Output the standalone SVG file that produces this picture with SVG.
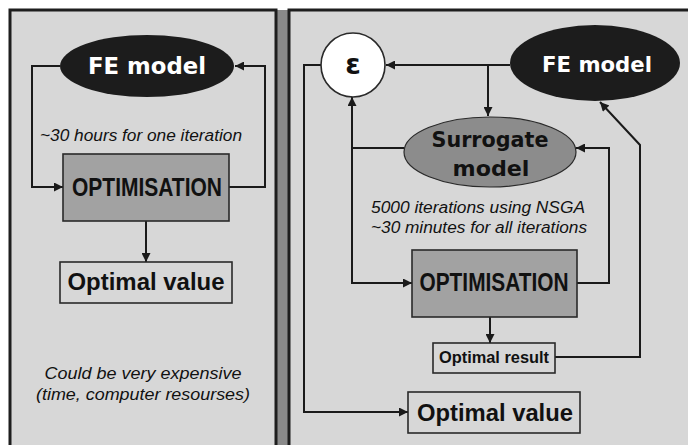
<svg xmlns="http://www.w3.org/2000/svg" width="688" height="445" viewBox="0 0 688 445">
<defs>
<marker id="arr" viewBox="0 0 10 10" refX="10" refY="5" markerUnits="userSpaceOnUse" markerWidth="11" markerHeight="9" orient="auto">
<path d="M0,0 L10,5 L0,10 z" fill="#1a1a1a"/>
</marker>
<style>
.panel{fill:#d7d7d7;stroke:#1e1e1e;stroke-width:3}
.conn path{fill:none;stroke:#1a1a1a;stroke-width:2}
.box{stroke:#2a2a2a;stroke-width:1.6}
.geo{font-family:"DejaVu Sans",sans-serif;font-weight:bold;text-anchor:middle}
.bold{font-family:"Liberation Sans",Arial,sans-serif;font-weight:bold;fill:#111;text-anchor:middle}
.ital{font-family:"Liberation Sans",Arial,sans-serif;font-style:italic;fill:#111;text-anchor:middle;font-size:16px}
</style>
</defs>
<rect x="0" y="0" width="688" height="445" fill="#ffffff"/>
<rect x="276" y="10" width="13" height="440" fill="#8a8a8a"/>
<rect class="panel" x="10" y="10" width="266" height="445"/>
<rect class="panel" x="289" y="10" width="410" height="445"/>

<g class="conn">
<path d="M60,66 H32 V187 H63" marker-end="url(#arr)"/>
<path d="M229,187 H265 V66 H235" marker-end="url(#arr)"/>
<path d="M146,221 V262" marker-end="url(#arr)"/>
<path d="M510,65 H386" marker-end="url(#arr)"/>
<path d="M488,65 V116" marker-end="url(#arr)"/>
<path d="M321,65 H304 V412 H408" marker-end="url(#arr)"/>
<path d="M404,148 H352 V97" marker-end="url(#arr)"/>
<path d="M352,148 V283 H412" marker-end="url(#arr)"/>
<path d="M577,283 H609 V148 H576" marker-end="url(#arr)"/>
<path d="M490,317 V343" marker-end="url(#arr)"/>
<path d="M555,357 H640 V145 L600,102" marker-end="url(#arr)"/>
</g>

<g id="fe-left">
<ellipse cx="147" cy="66" rx="87" ry="31" fill="#1c1c1c"/>
<text class="geo" x="147" y="74" font-size="23" fill="#ffffff" textLength="118" lengthAdjust="spacingAndGlyphs">FE model</text>
</g>
<g id="note-left">
<text class="ital" x="141" y="141" textLength="202" lengthAdjust="spacingAndGlyphs">~30 hours for one iteration</text>
</g>
<g id="opt-left">
<rect class="box" x="63" y="154" width="166" height="67" fill="#a2a2a2"/>
<text class="bold" x="147" y="196" font-size="25" textLength="150" lengthAdjust="spacingAndGlyphs">OPTIMISATION</text>
</g>
<g id="value-left">
<rect class="box" x="60" y="262" width="172" height="41" fill="#d7d7d7"/>
<text class="bold" x="146" y="290" font-size="24" textLength="157" lengthAdjust="spacingAndGlyphs">Optimal value</text>
</g>
<g id="cost-note">
<text class="ital" x="143" y="379" textLength="197" lengthAdjust="spacingAndGlyphs">Could be very expensive</text>
<text class="ital" x="143" y="400" textLength="214" lengthAdjust="spacingAndGlyphs">(time, computer resourses)</text>
</g>

<g id="epsilon">
<circle cx="353" cy="65" r="32" fill="#ffffff" stroke="#2a2a2a" stroke-width="1.6"/>
<text x="353" y="74" font-family="DejaVu Sans,sans-serif" font-weight="bold" font-size="28" fill="#111" text-anchor="middle">ε</text>
</g>
<g id="fe-right">
<ellipse cx="595" cy="63" rx="85" ry="38" fill="#1c1c1c"/>
<text class="geo" x="597" y="72" font-size="22" fill="#ffffff" textLength="110" lengthAdjust="spacingAndGlyphs">FE model</text>
</g>
<g id="surrogate">
<ellipse cx="490" cy="152" rx="86" ry="35" fill="#8c8c8c" stroke="#2a2a2a" stroke-width="1.2"/>
<text class="geo" x="490" y="147" font-size="21" fill="#111" textLength="117" lengthAdjust="spacingAndGlyphs">Surrogate</text>
<text class="geo" x="491" y="176" font-size="21" fill="#111" textLength="77" lengthAdjust="spacingAndGlyphs">model</text>
</g>
<g id="note-right">
<text class="ital" x="478" y="213" textLength="214" lengthAdjust="spacingAndGlyphs">5000 iterations using NSGA</text>
<text class="ital" x="479" y="233" textLength="216" lengthAdjust="spacingAndGlyphs">~30 minutes for all iterations</text>
</g>
<g id="opt-right">
<rect class="box" x="412" y="250" width="165" height="67" fill="#a2a2a2"/>
<text class="bold" x="494" y="291" font-size="25" textLength="149" lengthAdjust="spacingAndGlyphs">OPTIMISATION</text>
</g>
<g id="result">
<rect class="box" x="433" y="343" width="122" height="30" fill="#d7d7d7"/>
<text class="bold" x="494" y="363" font-size="16" textLength="110" lengthAdjust="spacingAndGlyphs">Optimal result</text>
</g>
<g id="value-right">
<rect class="box" x="408" y="392" width="172" height="41" fill="#d7d7d7"/>
<text class="bold" x="495" y="421" font-size="24" textLength="156" lengthAdjust="spacingAndGlyphs">Optimal value</text>
</g>
</svg>
